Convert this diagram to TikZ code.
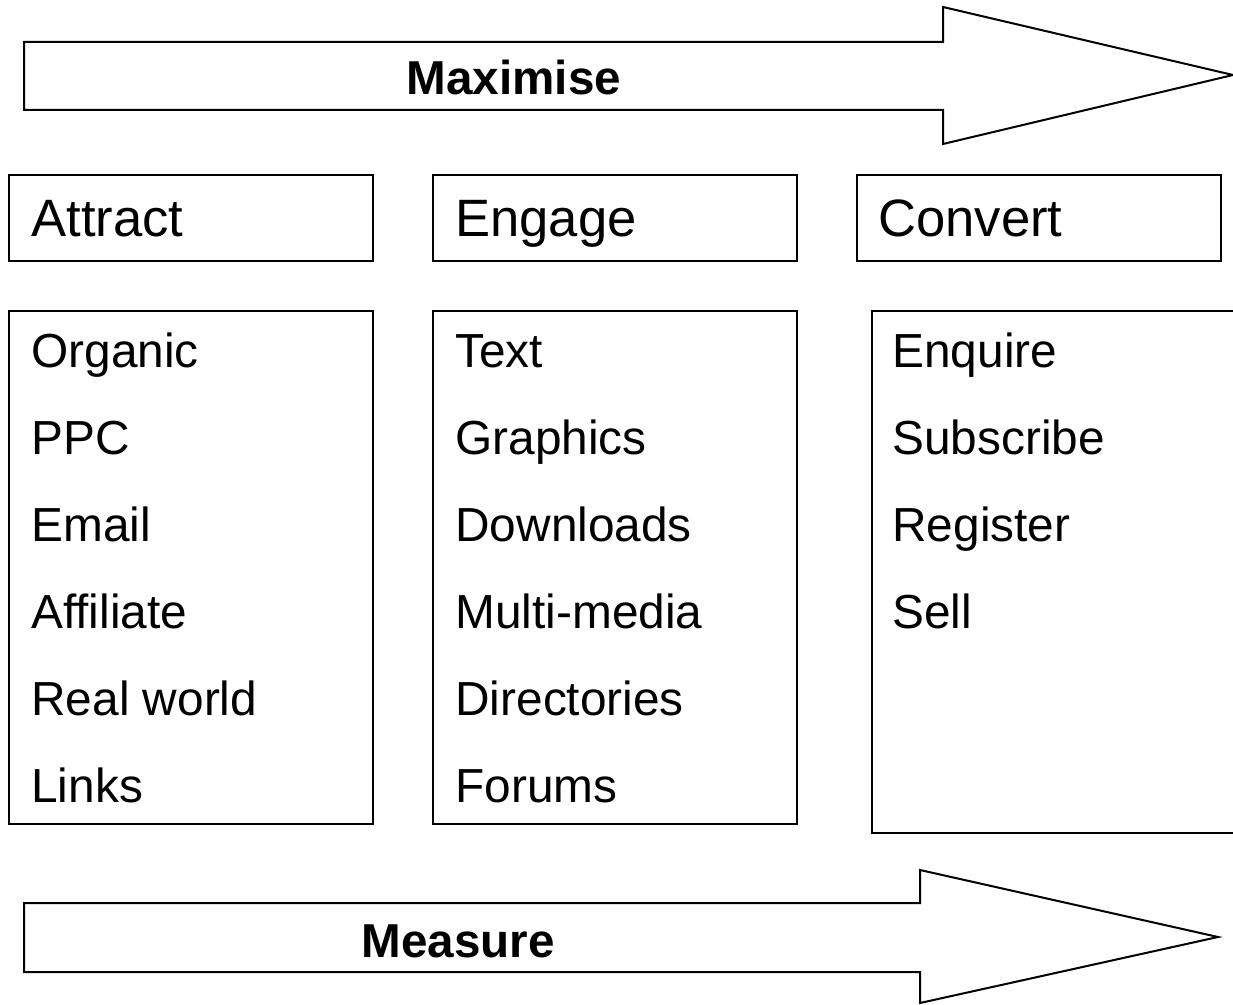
\documentclass[tikz,border=0pt]{standalone}
\usepackage{fontspec}
\setmainfont{Liberation Sans}
\usetikzlibrary{positioning}
\begin{document}
\begin{tikzpicture}[x=0.5pt,y=-0.5pt]
\tikzstyle{box}=[rectangle, draw=black, line width=1pt, anchor=north west, inner sep=0pt, minimum width=182pt]
\tikzstyle{head}=[box, minimum height=43pt]
\tikzstyle{list}=[box, minimum height=256.5pt]
\tikzstyle{word}=[anchor=base west, inner sep=0pt, font=\fontsize{26.3}{30}\selectfont]
\tikzstyle{entry}=[word, font=\fontsize{23.9}{28}\selectfont]
\tikzstyle{flow}=[draw=black, line width=1pt, line join=miter]
\tikzstyle{flowlabel}=[anchor=base, inner sep=0pt, font=\fontsize{23.8}{28}\selectfont\bfseries]
  \useasboundingbox (0,0) rectangle (1233,1005);
  % top and bottom arrows
  \draw[flow] (24,42) -- (943,42) -- (943,7) -- (1233,75) -- (943,144) -- (943,110) -- (24,110) -- cycle;
  \node[flowlabel] (maximise) at (514,95) {Maximise};
  \draw[flow] (24,903) -- (920,903) -- (920,870) -- (1218,937) -- (920,1003) -- (920,972) -- (24,972) -- cycle;
  \node[flowlabel] (measure) at (458,957) {Measure};

  % stage headings
  \node[head] (attract) at (8,174) {};
  \node[head] (engage) at (432,174) {};
  \node[head] (convert) at (856,174) {};
  \node[word] at (31,237) {Attract};
  \node[word] at (455,237) {Engage};
  \node[word] at (878,237) {Convert};

  % stage contents
  \node[list] (attractlist) at (8,310) {};
  \node[list] (engagelist) at (432,310) {};
  \node[box, minimum width=181.5pt, minimum height=261pt] (convertlist) at (871,310) {};
  \foreach \w [count=\i] in {Organic,PPC,Email,Affiliate,Real world,Links}
    \node[entry] (a\i) at (31,{368+86.8*(\i-1)}) {\w};
  \foreach \w [count=\i] in {Text,Graphics,Downloads,Multi-media,Directories,Forums}
    \node[entry] (e\i) at (455,{368+86.8*(\i-1)}) {\w};
  \foreach \w [count=\i] in {Enquire,Subscribe,Register,Sell}
    \node[entry] (c\i) at (892,{368+86.8*(\i-1)}) {\w};
\end{tikzpicture}
\end{document}
